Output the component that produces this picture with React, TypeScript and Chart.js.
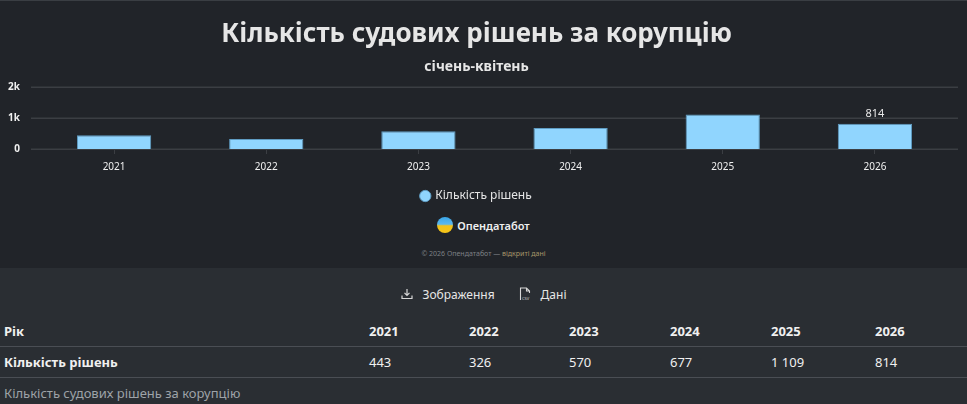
import { useEffect, useRef } from 'react';
import { Chart, registerables } from 'chart.js';

Chart.register(...registerables);

const years = ['2021', '2022', '2023', '2024', '2025', '2026'];
const decisions = [443, 326, 570, 677, 1109, 814];
const yTicks = [0, 1000, 2000];

const TITLE = 'Кількість судових рішень за корупцію';
const SUBTITLE = 'січень-квітень';
const SERIES = 'Кількість рішень';
const FONT = '"Noto Sans", "Open Sans", sans-serif';
const GRID = '#3b3e43';

// horizontal grid lines that run a little past the plot on both sides
const wideGrid = {
  id: 'wideGrid',
  beforeDatasetsDraw(chart: Chart) {
    const { ctx, chartArea, scales } = chart;
    ctx.save();
    ctx.strokeStyle = GRID;
    ctx.lineWidth = 1.5;
    yTicks.forEach((v) => {
      const y = Math.round(scales.y.getPixelForValue(v)) + 0.25;
      ctx.beginPath();
      ctx.moveTo(chartArea.left - 7, y);
      ctx.lineTo(chartArea.right + 7, y);
      ctx.stroke();
    });
    ctx.restore();
  },
};

// value label above the latest bar only
const lastLabel = {
  id: 'lastLabel',
  afterDatasetsDraw(chart: Chart) {
    const meta = chart.getDatasetMeta(0);
    const i = decisions.length - 1;
    const bar = meta.data[i];
    if (!bar) return;
    const { ctx } = chart;
    ctx.save();
    ctx.font = `11px ${FONT}`;
    ctx.fillStyle = '#e8e8e8';
    ctx.textAlign = 'center';
    ctx.textBaseline = 'bottom';
    ctx.fillText(String(decisions[i]), bar.x, bar.y - 4);
    ctx.restore();
  },
};

function BarChart() {
  const canvasRef = useRef<HTMLCanvasElement | null>(null);
  const chartRef = useRef<Chart | null>(null);

  useEffect(() => {
    if (!canvasRef.current) return;
    if (chartRef.current) chartRef.current.destroy();

    chartRef.current = new Chart(canvasRef.current, {
      type: 'bar',
      data: {
        labels: years,
        datasets: [
          {
            label: SERIES,
            data: decisions,
            backgroundColor: '#90d5fe',
            borderColor: '#5f9cc2',
            borderWidth: 1,
            categoryPercentage: 0.8,
            barPercentage: 0.61,
          },
        ],
      },
      options: {
        animation: false,
        responsive: true,
        maintainAspectRatio: false,
        layout: { padding: { left: 2, right: 16, bottom: 3 } },
        plugins: {
          title: {
            display: true,
            text: TITLE,
            color: '#e6e6e6',
            font: { family: FONT, size: 26, weight: 'bold' },
            padding: { top: 18, bottom: 8 },
          },
          subtitle: {
            display: true,
            text: SUBTITLE,
            color: '#e6e6e6',
            font: { family: FONT, size: 14, weight: 'bold' },
            padding: { bottom: 12 },
          },
          legend: {
            position: 'bottom',
            labels: {
              color: '#e6e6e6',
              font: { family: FONT, size: 12 },
              usePointStyle: true,
              pointStyle: 'circle',
              boxWidth: 8,
              boxHeight: 8,
              padding: 10,
            },
          },
          tooltip: { enabled: false },
        },
        scales: {
          x: {
            grid: {
              offset: false,
              drawOnChartArea: false,
              drawTicks: true,
              tickLength: 5,
              color: GRID,
            },
            border: { display: false },
            ticks: { color: '#f0f0f0', font: { family: FONT, size: 10 }, padding: 7 },
          },
          y: {
            min: yTicks[0],
            max: yTicks[yTicks.length - 1],
            afterBuildTicks: (axis) => {
              axis.ticks = yTicks.map((v) => ({ value: v }));
            },
            afterFit: (axis) => {
              axis.width = 36;
            },
            grid: { display: false },
            border: { display: false },
            ticks: {
              color: '#f0f0f0',
              font: { family: FONT, size: 10, weight: 'bold' },
              padding: 10,
              callback: (v) => (Number(v) === 0 ? '0' : `${Number(v) / 1000}k`),
            },
          },
        },
      },
      plugins: [wideGrid, lastLabel],
    });

    return () => {
      if (chartRef.current) {
        chartRef.current.destroy();
        chartRef.current = null;
      }
    };
  }, []);

  return (
    <div style={{ position: 'relative', height: 214, width: '100%' }}>
      <canvas ref={canvasRef} />
    </div>
  );
}

const colWidths = [365, 100, 100, 101, 101, 104];

export default function App() {
  useEffect(() => {
    document.body.style.margin = '0';
    document.body.style.background = '#2a2e33';
  }, []);

  const cell = { padding: '0 4px', textAlign: 'left' as const };

  return (
    <div style={{ fontFamily: FONT, width: 967, background: '#2a2e33', color: '#f0f0f0' }}>
      <div style={{ background: '#212429', height: 268, borderTop: '1px solid #3a3e43', boxSizing: 'border-box' }}>
        <BarChart />
        <div style={{ display: 'flex', justifyContent: 'center', alignItems: 'center', height: 20 }}>
          <div
            style={{
              width: 16,
              height: 16,
              borderRadius: '50%',
              background: 'linear-gradient(to bottom, #3aa6e8 0%, #5bb8ef 45%, #f2c21b 55%, #f5c518 100%)',
              marginRight: 4,
            }}
          />
          <span style={{ fontSize: 11, fontWeight: 600, color: '#f0f0f0' }}>Опендатабот</span>
        </div>
        <div style={{ textAlign: 'center', fontSize: 7, color: '#7d8085', marginTop: 14 }}>
          © 2026 Опендатабот — <span style={{ color: '#a8976a' }}>відкриті дані</span>
        </div>
      </div>
      <div
        style={{
          display: 'flex',
          justifyContent: 'center',
          alignItems: 'center',
          height: 44,
          paddingTop: 4,
          fontSize: 12,
          color: '#e6e6e6',
        }}
      >
        <svg width="12" height="12" viewBox="0 0 12 12" style={{ marginRight: 10 }}>
          <path d="M6 1 V7 M3.5 4.8 L6 7.3 L8.5 4.8 M1 7.5 V10.5 H11 V7.5" stroke="#d8d8d8" strokeWidth="1.2" fill="none" />
        </svg>
        <span style={{ marginRight: 24 }}>Зображення</span>
        <svg width="12" height="14" viewBox="0 0 12 14" style={{ marginRight: 10 }}>
          <path d="M1.5 13 V1 H7.5 L10.5 4 V6 M7.5 1 V4 H10.5" stroke="#d8d8d8" strokeWidth="1.1" fill="none" />
          <text x="3" y="13" fontSize="4" fill="#d8d8d8">CSV</text>
        </svg>
        <span>Дані</span>
      </div>
      <table style={{ width: '100%', borderCollapse: 'collapse', tableLayout: 'fixed', fontSize: 13 }}>
        <colgroup>
          {colWidths.map((w, i) => (
            <col key={i} style={{ width: w }} />
          ))}
          <col />
        </colgroup>
        <caption style={{ captionSide: 'bottom', textAlign: 'left', padding: '6px 4px', color: '#9ea3a8', fontSize: 13 }}>
          {TITLE}
        </caption>
        <thead>
          <tr style={{ borderBottom: '1.5px solid #4a4e54', height: 30 }}>
            <th style={cell}>Рік</th>
            {years.map((y) => (
              <th key={y} style={cell}>
                {y}
              </th>
            ))}
          </tr>
        </thead>
        <tbody>
          <tr style={{ borderBottom: '1.5px solid #4a4e54', height: 31 }}>
            <th style={cell}>{SERIES}</th>
            {decisions.map((v, i) => (
              <td key={years[i]} style={cell}>
                {v.toLocaleString('uk-UA').replace(/\s/g, ' ')}
              </td>
            ))}
          </tr>
        </tbody>
      </table>
    </div>
  );
}
